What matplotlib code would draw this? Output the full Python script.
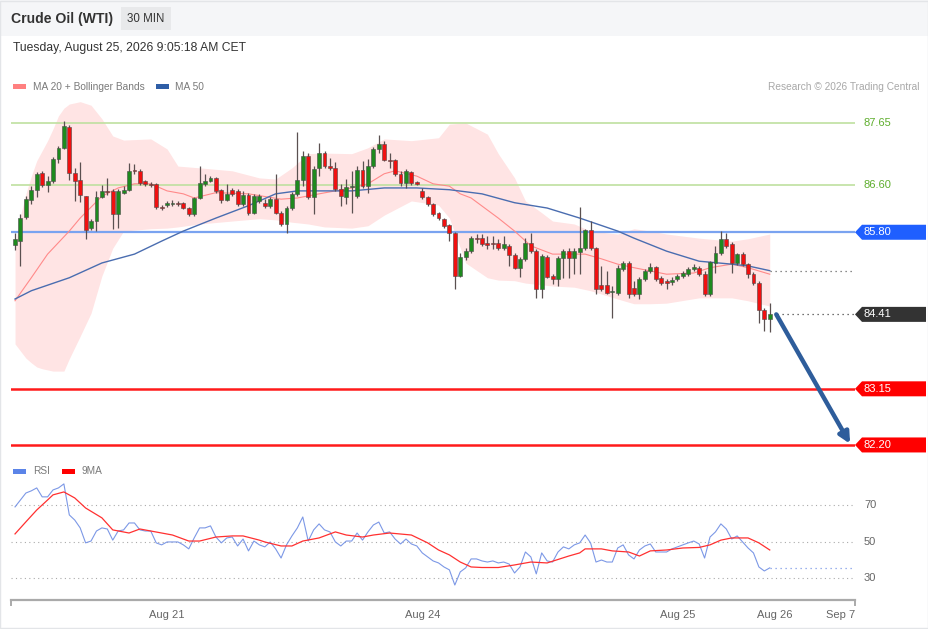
import matplotlib
matplotlib.use("Agg")
import matplotlib.pyplot as plt
from matplotlib.patches import Rectangle, Polygon
from matplotlib.transforms import blended_transform_factory
import numpy as np

plt.rcParams['font.family'] = ['Liberation Sans', 'DejaVu Sans']

# 30 min candles, Crude Oil (WTI)
opens = [85.59, 85.65, 86.06, 86.35, 86.52, 86.80, 86.60, 86.67, 87.04, 87.23,
         87.58, 86.80, 86.69, 86.41, 85.87, 85.99, 86.40, 86.50, 86.50, 86.11,
         86.47, 86.52, 86.85, 86.84, 86.67, 86.62, 86.62, 86.23, 86.26, 86.28,
         86.30, 86.30, 86.21, 86.11, 86.38, 86.62, 86.67, 86.72, 86.52, 86.35,
         86.52, 86.50, 86.28, 86.43, 86.13, 86.33, 86.30, 86.25, 86.36, 86.13,
         85.94, 86.21, 86.45, 86.69, 87.09, 86.40, 86.89, 87.14, 86.92, 86.89,
         86.53, 86.40, 86.57, 86.41, 86.85, 86.58, 86.92, 87.21, 87.30, 87.02,
         87.02, 86.79, 86.63, 86.82, 86.65, 86.50, 86.40, 86.28, 86.13, 86.03,
         85.92, 85.79, 85.06, 85.38, 85.48, 85.70, 85.70, 85.62, 85.62, 85.62,
         85.53, 85.57, 85.42, 85.20, 85.35, 85.62, 85.48, 84.84, 85.38, 85.06,
         85.01, 85.37, 85.48, 85.37, 85.47, 85.53, 85.84, 85.53, 84.91, 84.91,
         84.79, 84.77, 85.18, 85.28, 84.86, 84.76, 85.01, 85.15, 85.21, 85.03,
         84.98, 84.96, 85.01, 85.06, 85.09, 85.18, 85.20, 85.09, 84.76, 85.28,
         85.45, 85.69, 85.60, 85.28, 85.43, 85.26, 85.09, 84.94, 84.49, 84.33]
highs = [85.79, 86.11, 86.41, 86.58, 86.82, 86.84, 86.75, 87.07, 87.26, 87.68,
         87.62, 86.89, 86.99, 86.41, 86.03, 86.50, 86.60, 86.72, 86.53, 86.53,
         86.58, 86.97, 86.96, 86.87, 86.69, 86.65, 86.63, 86.26, 86.33, 86.35,
         86.33, 86.31, 86.23, 86.40, 86.92, 86.79, 86.75, 86.74, 86.53, 86.62,
         86.55, 86.53, 86.50, 86.47, 86.45, 86.45, 86.36, 86.40, 86.79, 86.16,
         86.25, 86.48, 87.50, 87.18, 87.14, 86.92, 87.31, 87.18, 87.06, 86.99,
         86.62, 86.70, 86.84, 86.92, 87.01, 87.04, 87.24, 87.45, 87.35, 87.14,
         87.04, 86.84, 86.87, 86.84, 86.67, 86.55, 86.41, 86.30, 86.14, 86.04,
         85.94, 85.81, 85.45, 85.53, 85.74, 85.77, 85.77, 85.74, 85.74, 85.69,
         85.74, 85.60, 85.45, 85.38, 85.70, 85.79, 85.52, 85.43, 85.42, 85.09,
         85.40, 85.52, 85.53, 85.53, 86.23, 85.86, 85.99, 85.55, 85.23, 85.15,
         84.89, 85.25, 85.32, 85.32, 84.98, 85.04, 85.18, 85.28, 85.23, 85.06,
         85.01, 85.04, 85.09, 85.15, 85.21, 85.26, 85.23, 85.15, 85.32, 85.57,
         85.82, 85.79, 85.64, 85.45, 85.47, 85.28, 85.13, 84.98, 84.52, 84.60]
lows = [85.50, 85.23, 86.03, 86.28, 86.40, 86.57, 86.48, 86.63, 86.97, 87.21,
        86.69, 86.33, 86.31, 85.69, 85.84, 85.82, 86.38, 86.43, 85.86, 85.87,
        86.45, 86.50, 86.79, 86.60, 86.58, 86.57, 86.19, 86.18, 86.23, 86.25,
        86.25, 86.19, 86.08, 86.08, 86.36, 86.58, 86.65, 86.47, 86.30, 86.33,
        86.41, 86.25, 86.25, 86.09, 86.11, 86.30, 86.21, 86.21, 86.11, 85.91,
        85.79, 86.18, 86.41, 86.58, 86.36, 86.11, 86.75, 86.89, 86.85, 86.50,
        86.25, 86.28, 86.13, 86.38, 86.55, 86.47, 86.89, 87.14, 87.01, 86.89,
        86.75, 86.58, 86.55, 86.60, 86.60, 86.36, 86.25, 86.08, 86.01, 85.87,
        85.65, 84.84, 85.04, 85.33, 85.45, 85.62, 85.57, 85.52, 85.52, 85.50,
        85.50, 85.23, 85.18, 85.04, 85.31, 85.45, 84.69, 84.69, 85.03, 84.93,
        84.89, 85.03, 85.03, 85.09, 85.09, 85.50, 85.50, 84.76, 84.81, 84.76,
        84.35, 84.74, 85.15, 84.69, 84.72, 84.67, 84.98, 85.11, 84.98, 84.91,
        84.84, 84.91, 84.98, 85.03, 85.06, 85.15, 85.06, 84.72, 84.72, 85.11,
        85.42, 85.53, 85.11, 85.25, 85.23, 85.03, 84.91, 84.27, 84.13, 84.11]
closes = [85.69, 86.04, 86.36, 86.52, 86.79, 86.60, 86.67, 87.04, 87.23, 87.60,
          86.80, 86.67, 86.43, 85.84, 85.99, 86.40, 86.50, 86.48, 86.11, 86.50,
          86.52, 86.84, 86.84, 86.63, 86.62, 86.60, 86.23, 86.21, 86.30, 86.30,
          86.28, 86.21, 86.11, 86.38, 86.63, 86.67, 86.72, 86.50, 86.35, 86.45,
          86.45, 86.28, 86.43, 86.13, 86.41, 86.41, 86.25, 86.36, 86.13, 85.94,
          86.21, 86.45, 86.69, 87.09, 86.40, 86.87, 87.14, 86.92, 86.89, 86.53,
          86.41, 86.57, 86.58, 86.85, 86.58, 86.92, 87.21, 87.30, 87.02, 87.01,
          86.79, 86.63, 86.84, 86.63, 86.62, 86.40, 86.28, 86.11, 86.04, 85.91,
          85.79, 85.06, 85.38, 85.48, 85.70, 85.69, 85.60, 85.59, 85.60, 85.53,
          85.60, 85.42, 85.20, 85.35, 85.62, 85.48, 84.84, 85.40, 85.04, 85.01,
          85.37, 85.48, 85.37, 85.48, 85.53, 85.84, 85.53, 84.84, 84.84, 84.77,
          84.81, 85.20, 85.28, 84.76, 84.76, 85.01, 85.15, 85.21, 85.01, 84.94,
          84.94, 84.99, 85.06, 85.11, 85.18, 85.21, 85.09, 84.76, 85.30, 85.45,
          85.69, 85.57, 85.28, 85.43, 85.26, 85.09, 84.94, 84.49, 84.33, 84.41]

# Bollinger bands (read at these candle indices)
band_idx = [0, 1, 2, 3, 4, 5, 6, 7, 8, 9, 10, 12, 14, 16, 18, 20, 25, 28, 30, 34,
            40, 45, 48, 51, 54, 57, 62, 65, 68, 73, 78, 80, 83, 87, 89, 92, 94, 97,
            99, 103, 106, 111, 114, 117, 120, 126, 132, 135, 139]
band_upper = [85.57, 86.08, 86.45, 86.75, 87.01, 87.18, 87.35, 87.55, 87.77, 87.90,
              87.97, 88.01, 87.95, 87.72, 87.43, 87.36, 87.38, 87.21, 86.92, 86.89,
              86.84, 86.72, 86.70, 86.89, 87.13, 87.14, 87.13, 87.23, 87.38, 87.35,
              87.40, 87.63, 87.65, 87.46, 87.13, 86.72, 86.33, 86.13, 85.99, 85.94,
              85.82, 85.77, 85.86, 85.82, 85.77, 85.70, 85.65, 85.69, 85.77]
band_lower = [83.91, 83.79, 83.67, 83.59, 83.52, 83.49, 83.47, 83.45, 83.45, 83.45,
              83.66, 84.04, 84.43, 85.06, 85.53, 85.82, 85.86, 85.87, 85.89, 85.94,
              85.99, 86.03, 86.01, 85.97, 85.94, 85.89, 85.87, 85.91, 86.09, 86.33,
              86.26, 86.04, 85.28, 85.03, 84.99, 84.98, 84.94, 84.91, 84.89, 84.87,
              84.81, 84.67, 84.59, 84.59, 84.60, 84.69, 84.69, 84.64, 84.55]

ma20_idx = [0, 3, 6, 10, 12, 16, 19, 22, 25, 28, 31, 33, 37, 43, 49, 52, 56, 59, 62,
            65, 68, 70, 74, 77, 80, 82, 84, 89, 92, 95, 99, 105, 108, 111, 114, 120,
            125, 128, 132, 135, 139]
ma20 = [84.64, 85.03, 85.43, 85.82, 86.04, 86.41, 86.55, 86.62, 86.62, 86.50, 86.45,
        86.38, 86.47, 86.45, 86.36, 86.38, 86.45, 86.50, 86.55, 86.62, 86.79, 86.84,
        86.75, 86.62, 86.58, 86.45, 86.38, 86.04, 85.82, 85.57, 85.43, 85.43, 85.35,
        85.26, 85.20, 85.09, 85.11, 85.20, 85.26, 85.20, 85.09]

ma50_idx = [0, 3, 10, 16, 22, 27, 31, 37, 43, 48, 52, 62, 68, 74, 80, 86, 92, 98,
            104, 111, 114, 120, 126, 132, 135, 139]
ma50 = [84.67, 84.81, 85.03, 85.28, 85.43, 85.65, 85.82, 86.04, 86.25, 86.45, 86.50,
        86.50, 86.55, 86.55, 86.52, 86.45, 86.30, 86.21, 86.04, 85.82, 85.70, 85.48,
        85.31, 85.26, 85.23, 85.15]

rsi = [69.2, 73.0, 76.8, 78.0, 79.6, 74.7, 74.7, 78.5, 79.6, 81.8,
       64.8, 62.0, 57.7, 49.5, 50.5, 56.0, 57.7, 57.1, 51.0, 56.0,
       56.6, 60.4, 60.4, 56.6, 56.0, 56.0, 49.5, 48.4, 50.0, 50.0,
       50.0, 48.4, 46.2, 52.2, 57.7, 57.7, 58.8, 52.7, 49.5, 52.2,
       52.7, 47.8, 51.6, 45.1, 50.5, 48.4, 47.3, 50.0, 46.2, 41.2,
       48.4, 53.3, 57.7, 63.7, 50.5, 56.6, 59.9, 56.6, 55.5, 50.0,
       47.8, 50.5, 50.5, 54.9, 51.0, 55.5, 59.3, 60.9, 54.9, 55.5,
       51.6, 48.9, 51.6, 48.9, 47.8, 44.0, 41.8, 39.6, 38.5, 36.3,
       34.7, 26.4, 33.6, 35.8, 40.7, 40.7, 39.6, 39.0, 39.6, 38.5,
       39.0, 37.9, 33.0, 36.3, 44.5, 41.8, 32.5, 44.0, 39.6, 39.0,
       44.5, 47.3, 46.2, 48.4, 49.5, 53.8, 49.5, 39.0, 40.1, 39.0,
       39.0, 46.7, 48.4, 42.9, 40.7, 45.6, 47.8, 48.9, 44.5, 44.5,
       44.5, 46.2, 47.3, 48.4, 49.5, 50.5, 48.9, 41.2, 52.7, 55.5,
       59.9, 57.1, 51.6, 53.3, 50.0, 46.7, 44.0, 36.3, 34.1, 35.8]

rsi_ma_idx = [0, 2, 4, 6, 7, 9, 11, 13, 16, 18, 21, 23, 25, 29, 32, 34, 37, 40, 42,
              45, 46, 49, 51, 53, 56, 59, 61, 64, 66, 69, 73, 76, 78, 80, 82, 84, 86,
              89, 92, 95, 98, 102, 104, 105, 108, 110, 113, 115, 117, 120, 123, 126,
              128, 130, 132, 135, 137, 139]
rsi_ma = [54.4, 61.0, 67.5, 73.0, 75.8, 77.4, 74.1, 68.6, 63.2, 56.6, 54.9, 57.1, 56.0,
          53.8, 50.5, 50.5, 52.7, 53.3, 53.3, 51.0, 50.0, 47.8, 47.8, 50.5, 52.2, 55.5,
          53.8, 52.7, 53.8, 54.9, 53.8, 49.5, 45.6, 42.9, 39.0, 36.3, 36.0, 36.0, 37.4,
          39.0, 38.5, 42.3, 44.0, 46.2, 46.2, 45.1, 44.5, 42.3, 45.1, 45.6, 46.7, 47.0,
          48.4, 51.0, 52.2, 52.2, 49.5, 45.6]

resistances = [87.65, 86.60]
pivot = 85.80
supports = [83.15, 82.20]
rsi_levels = [70, 50, 30]
tick_pos = [28, 75, 122, 140, 152]
tick_labels = ["Aug 21", "Aug 24", "Aug 25", "Aug 26", "Sep 7"]

W, H = 929, 629
fig = plt.figure(figsize=(W / 100, H / 100), dpi=100)
fig.patch.set_facecolor("white")

# decoration layer in pixel units (origin bottom left)
deco = fig.add_axes([0, 0, 1, 1], zorder=0)
deco.set_xlim(0, W)
deco.set_ylim(0, H)
deco.axis("off")

deco.add_patch(Rectangle((0, H - 36), W, 36, color="#f5f6f8", lw=0))
deco.add_patch(Rectangle((0.5, 1.5), W - 1.5, H - 2, fill=False, ec="#e3e5e8", lw=1))
deco.add_patch(Rectangle((121, H - 30), 50, 23, color="#e8e9eb", lw=0))
deco.text(11, H - 19.5, "Crude Oil (WTI)", fontsize=10.1, fontweight="bold",
          color="#333333", va="center")
deco.text(146, H - 19, "30 MIN", fontsize=8.3, color="#333333", va="center", ha="center")
deco.text(13, H - 48.5, "Tuesday, August 25, 2026 9:05:18 AM CET", fontsize=8.7,
          color="#333333", va="center")

deco.add_patch(Rectangle((13, H - 88.5), 13, 5, color="#ff8080", lw=0))
deco.text(33, H - 86.5, "MA 20 + Bollinger Bands", fontsize=7.3, color="#7a7a7a", va="center")
deco.add_patch(Rectangle((156, H - 88.5), 13, 5, color="#2f5ea6", lw=0))
deco.text(175, H - 86.5, "MA 50", fontsize=7.3, color="#7a7a7a", va="center")
deco.text(920, H - 86.5, "Research \u00a9 2026 Trading Central", fontsize=7.3,
          color="#a8a8a8", va="center", ha="right")

deco.add_patch(Rectangle((13, H - 473.5), 13, 5, color="#5b84e8", lw=0))
deco.text(33, H - 471.5, "RSI", fontsize=7.3, color="#7a7a7a", va="center")
deco.add_patch(Rectangle((62, H - 473.5), 13, 5, color="#ff0000", lw=0))
deco.text(82, H - 471.5, "9MA", fontsize=7.3, color="#7a7a7a", va="center")

# price panel
ax = fig.add_axes([11 / W, 1 - 455 / H, 844 / W, 360 / H], zorder=2)
ax.set_facecolor("none")
xmin, xmax = -0.74, 154.7
ax.set_xlim(xmin, xmax)
ax.set_ylim(82.03, 88.123)
ax.axis("off")

ax.fill_between(band_idx, band_lower, band_upper, color="#ffe4e4", lw=0, zorder=1)
ax.plot(ma20_idx, ma20, color="#ff8a8a", lw=0.8, zorder=2)
ax.plot(ma50_idx, ma50, color="#4a6db0", lw=1.0, zorder=2)

for lvl in resistances:
    ax.axhline(lvl, color="#bfe0a0", lw=1.2, zorder=1.5)
ax.axhline(pivot, color="#7aa3f0", lw=1.6, zorder=1.5)
for lvl in supports:
    ax.axhline(lvl, color="#ff1a1a", lw=1.8, zorder=1.5)

x = np.arange(len(closes))
o = np.array(opens)
c = np.array(closes)
up = c >= o
ax.vlines(x, lows, highs, color="#5a5050", lw=0.9, zorder=3)
bottoms = np.minimum(o, c)
heights = np.maximum(np.abs(c - o), 0.012)
ax.bar(x, heights, bottom=bottoms, width=0.72,
       color=np.where(up, "#1e8a1e", "#f01010"), edgecolor="#4a4a4a", lw=0.4, zorder=4)

n = len(closes)
ax.plot([ma50_idx[-1], xmax], [ma50[-1]] * 2, ls=(0, (1, 3)), color="#666666", lw=0.9)
ax.plot([n + 0.3, xmax], [closes[-1]] * 2, ls=(0, (1, 3)), color="#444444", lw=0.9)
ax.annotate("", xy=(n + 13.8, supports[-1] + 0.02), xytext=(n + 0.2, closes[-1]),
            arrowprops=dict(arrowstyle="-|>", color="#2e5d9b", lw=3.2,
                            mutation_scale=16, shrinkA=0, shrinkB=0), zorder=5)


def disp_y(axis, value):
    return axis.transData.transform((0, value))[1]


def tag(value, color):
    yy = disp_y(ax, value)
    deco.add_patch(Polygon([(855, yy), (862, yy + 7.5), (926, yy + 7.5),
                            (926, yy - 7.5), (862, yy - 7.5)], closed=True,
                           color=color, lw=0))
    deco.text(864, yy, f"{value:.2f}", fontsize=8, color="white", va="center")


for lvl in resistances:
    deco.text(864, disp_y(ax, lvl), f"{lvl:.2f}", fontsize=8, color="#5fae2e", va="center")
tag(pivot, "#1f5fff")
tag(closes[-1], "#333333")
for lvl in supports:
    tag(lvl, "#ff0000")

# RSI panel
rax = fig.add_axes([11 / W, 1 - 600 / H, 844 / W, 138 / H], zorder=2)
rax.set_facecolor("none")
rax.set_xlim(xmin, xmax)
rax.set_ylim(18.2, 93.8)
for s in ("top", "left", "right"):
    rax.spines[s].set_visible(False)
rax.spines["bottom"].set_color("#aaaaaa")
rax.spines["bottom"].set_linewidth(1.6)
rax.set_yticks([])
rax.set_xticks(tick_pos)
rax.set_xticklabels(tick_labels)
rax.tick_params(axis="x", length=0, pad=7, labelsize=8, labelcolor="#666666")

for v in rsi_levels:
    rax.plot([xmin, xmax], [v, v], ls=(0, (1, 3)), color="#aaaaaa", lw=0.8)
    deco.text(864, disp_y(rax, v), str(v), fontsize=8, color="#666666", va="center")

rax.plot(x, rsi, color="#7c98e6", lw=0.8)
rax.plot(rsi_ma_idx, rsi_ma, color="#ff3030", lw=0.9)
rax.plot([n - 1, xmax], [rsi[-1]] * 2, ls=(0, (1, 3)), color="#7c98e6", lw=0.9)

trans = blended_transform_factory(rax.transData, rax.transAxes)
for xe in (xmin, xmax):
    rax.plot([xe, xe], [0, -0.035], color="#aaaaaa", lw=1.4, transform=trans, clip_on=False)

fig.savefig("out.png", dpi=100)
